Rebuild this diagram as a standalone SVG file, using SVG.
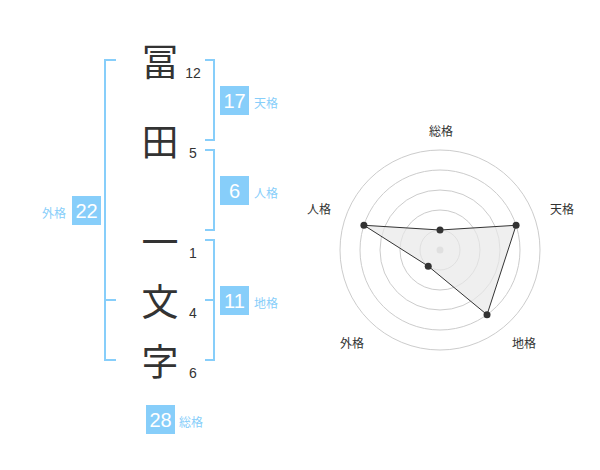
<svg xmlns="http://www.w3.org/2000/svg" width="600" height="470" viewBox="0 0 600 470">
<style>
.kanji{font-family:"Noto Sans CJK JP","Noto Sans CJK SC",sans-serif;font-size:37px;fill:#333;text-anchor:middle;dominant-baseline:central}
.num{font-family:"Liberation Sans",Arial,sans-serif;font-size:14px;fill:#333;text-anchor:middle}
.br{fill:none;stroke:#87cefa;stroke-width:2}
.box{fill:#87cefa}
.bn{font-family:"Liberation Sans",Arial,sans-serif;font-size:20px;fill:#fff;text-anchor:middle;dominant-baseline:central}
.bl{font-family:"Noto Sans CJK JP","Noto Sans CJK SC",sans-serif;font-size:12px;fill:#87cefa;dominant-baseline:central}
.ring{fill:none;stroke:#ccc;stroke-width:1}
.rl{font-family:"Noto Sans CJK JP","Noto Sans CJK SC",sans-serif;font-size:12px;fill:#333;text-anchor:middle;dominant-baseline:central}
.pt{fill:#333}
</style>
<rect width="600" height="470" fill="#fff"/>
<g id="chars">
<text class="kanji" x="160" y="60">冨</text>
<text class="kanji" x="160" y="140">田</text>
<text class="kanji" x="160" y="240">一</text>
<text class="kanji" x="160" y="300">文</text>
<text class="kanji" x="160" y="360">字</text>
</g>
<g id="strokes">
<text class="num" x="193" y="78">12</text>
<text class="num" x="193" y="158">5</text>
<text class="num" x="193" y="258">1</text>
<text class="num" x="193" y="318">4</text>
<text class="num" x="193" y="378">6</text>
</g>
<g id="connectors">
<path class="br" d="M116,60 H105 V360 H116 M105,300 H116"/>
<path class="br" d="M205,60 H214 V140 H205"/>
<path class="br" d="M205,150 H214 V230 H205"/>
<path class="br" d="M205,240 H214 V360 H205 M214,300 H205"/>
</g>
<g id="tenkaku">
<rect class="box" x="220" y="86" width="29" height="29"/>
<text class="bn" x="234.5" y="101">17</text>
<text class="bl" x="254" y="102">天格</text>
</g>
<g id="jinkaku">
<rect class="box" x="220" y="176" width="29" height="29"/>
<text class="bn" x="234.5" y="191">6</text>
<text class="bl" x="254" y="192">人格</text>
</g>
<g id="chikaku">
<rect class="box" x="220" y="286" width="29" height="29"/>
<text class="bn" x="234.5" y="301">11</text>
<text class="bl" x="254" y="302">地格</text>
</g>
<g id="gaikaku">
<rect class="box" x="72" y="196" width="29" height="29"/>
<text class="bn" x="86.5" y="211">22</text>
<text class="bl" x="42" y="212">外格</text>
</g>
<g id="soukaku">
<rect class="box" x="146" y="405" width="29" height="29"/>
<text class="bn" x="160.5" y="420">28</text>
<text class="bl" x="179" y="421">総格</text>
</g>
<g id="radar">
<circle class="ring" cx="440" cy="250" r="100"/>
<circle class="ring" cx="440" cy="250" r="80"/>
<circle class="ring" cx="440" cy="250" r="60"/>
<circle class="ring" cx="440" cy="250" r="40"/>
<circle class="ring" cx="440" cy="250" r="20"/>
<circle cx="440" cy="250" r="3.5" fill="#ccc"/>
<polygon points="440,230 516.08,225.28 487.02,314.72 428.24,266.18 363.92,225.28" fill="#e8e8e8" fill-opacity="0.7" stroke="#333" stroke-width="1"/>
<circle class="pt" cx="440" cy="230" r="3.5"/>
<circle class="pt" cx="516.08" cy="225.28" r="3.5"/>
<circle class="pt" cx="487.02" cy="314.72" r="3.5"/>
<circle class="pt" cx="428.24" cy="266.18" r="3.5"/>
<circle class="pt" cx="363.92" cy="225.28" r="3.5"/>
<text class="rl" x="441" y="130">総格</text>
<text class="rl" x="562" y="208">天格</text>
<text class="rl" x="524" y="342">地格</text>
<text class="rl" x="352" y="342">外格</text>
<text class="rl" x="319" y="208">人格</text>
</g>
</svg>
